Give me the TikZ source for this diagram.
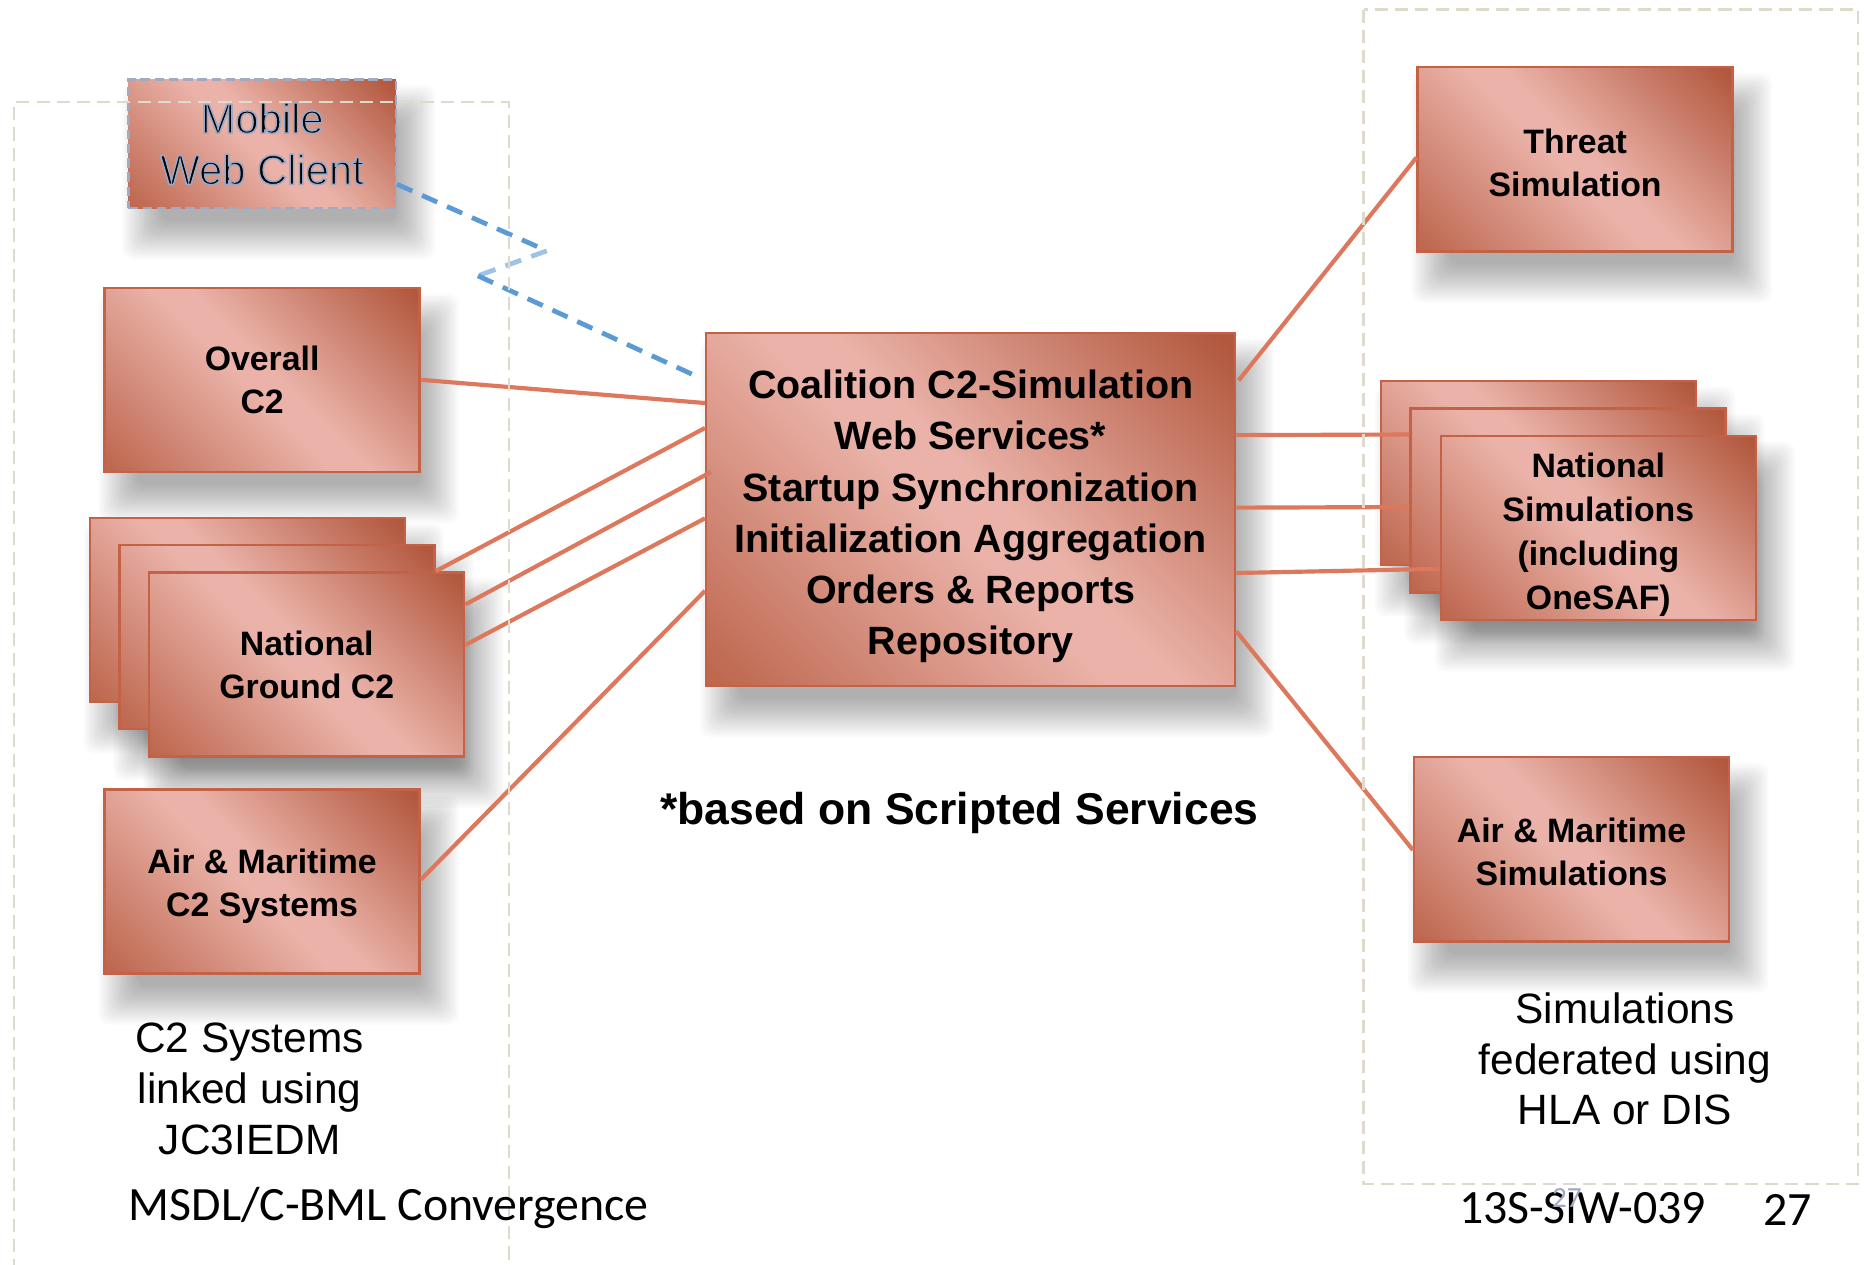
\documentclass[tikz,border=0pt]{standalone}
\usepackage{fontspec}
\setmainfont{Liberation Sans}
\newfontfamily\carlito{Carlito}
\usetikzlibrary{calc}
\definecolor{bxdarkA}{RGB}{190,104,80}
\definecolor{bxdarkB}{RGB}{178,88,62}
\definecolor{bxlight}{RGB}{234,178,168}
\definecolor{bxborder}{RGB}{196,98,72}
\definecolor{linkc}{RGB}{222,120,92}
\definecolor{cont}{RGB}{222,219,204}
\definecolor{blueA}{RGB}{91,155,213}
\definecolor{blueB}{RGB}{157,195,230}
\definecolor{mobborder}{RGB}{160,170,195}
\pgfdeclarehorizontalshading{boxshade}{100bp}{color(0bp)=(bxdarkA); color(16bp)=(bxdarkA); color(47bp)=(bxlight); color(53bp)=(bxlight); color(84bp)=(bxdarkB); color(100bp)=(bxdarkB)}
\pgfdeclarelayer{shadowlayer}
\pgfsetlayers{shadowlayer,main}
\newcommand\boxshadow[1]{%
  \begin{pgfonlayer}{shadowlayer}
    \foreach \e in {-14,-12,...,18}{%
      \pgfmathsetmacro\sa{14-\e}\pgfmathsetmacro\sb{24-\e}%
      \pgfmathsetmacro\sc{14+\e}\pgfmathsetmacro\sd{24+\e}%
      \fill[black, fill opacity=0.02, rounded corners=0.18cm]
        ($(#1.north west)+(\sa,\sb)$) rectangle ($(#1.south east)+(\sc,\sd)$);
    }
  \end{pgfonlayer}}
% outlined text: black fill, blue-grey stroke
\newcommand\outlinetext[1]{\special{pdf:literal direct q 2 Tr 0.75 w 0.60 0.66 0.78 RG 0 g}#1\special{pdf:literal direct Q}}
\begin{document}
\begin{tikzpicture}[x=0.02cm,y=-0.02cm,
  box/.style={draw=bxborder, line width=0.04cm, shading=boxshade, shading angle=45,
    minimum width=5.3cm, minimum height=3.1cm, inner sep=0pt, align=center,
    font=\bfseries\fontsize{16.2}{20.5}\selectfont},
  boxtext/.style={inner sep=0pt, align=center, font=\bfseries\fontsize{16.2}{20.5}\selectfont},
  link/.style={draw=linkc, line width=0.07cm},
  wlink/.style={draw=blueA, line width=0.08cm, dash pattern=on 0.28cm off 0.18cm},
  container/.style={draw=cont, line width=0.04cm, dash pattern=on 0.22cm off 0.12cm},
  label/.style={align=center, font=\fontsize{20.3}{24.2}\selectfont},
  foottext/.style={anchor=west, inner sep=0pt, font=\carlito\fontsize{22.9}{27}\selectfont}]
\useasboundingbox (0,0) rectangle (1568,1064);
\begin{pgfonlayer}{shadowlayer}
\fill[white] (0,0) rectangle (1568,1064);
\end{pgfonlayer}

% boxes
\node[box, minimum width=4.5cm, minimum height=2.16cm, draw=mobborder, dash pattern=on 0.16cm off 0.08cm,
  font=\fontsize{20}{24.5}\selectfont] (mob) at (220.5,121) {\outlinetext{Mobile}\\\outlinetext{Web Client}};
\node[box] (ov) at (220.5,319.5) {Overall\\C2};
\node[box] (ngA) at (208,513) {};
\node[box] (ngB) at (233,536) {};
\node[box] (ngC) at (258,559) {National\\Ground C2};
\node[box] (ac2) at (220.5,741.5) {};
\node[boxtext] (ac2t) at ($(ac2.center)+(0,4)$) {Air \& Maritime\\C2 Systems};
\node[box, minimum width=8.9cm, minimum height=5.94cm] (c) at (816.5,428.5) {};
\node[boxtext, font=\bfseries\fontsize{18.9}{24.5}\selectfont] (ct) at ($(c.center)+(0,6)$)
  {Coalition C2-Simulation\\Web Services*\\Startup Synchronization\\Initialization Aggregation\\Orders \& Reports\\Repository};
\node[box] (th) at (1325,134) {};
\node[boxtext] (tht) at ($(th.center)+(0,3)$) {Threat\\Simulation};
\node[box] (nsA) at (1294,398) {};
\node[box] (nsB) at (1319,421) {};
\node[box] (nsC) at (1344.5,444) {};
\node[boxtext, font=\bfseries\fontsize{16.2}{21}\selectfont] (nsCt) at ($(nsC.center)+(0,6)$) {National\\Simulations\\(including\\OneSAF)};
\node[box] (as) at (1322,714.5) {};
\node[boxtext] (ast) at ($(as.center)+(0,2)$) {Air \& Maritime\\Simulations};

\boxshadow{mob}
\boxshadow{ov}
\boxshadow{ngA}
\boxshadow{ngB}
\boxshadow{ngC}
\boxshadow{ac2}
\boxshadow{c}
\boxshadow{th}
\boxshadow{nsA}
\boxshadow{nsB}
\boxshadow{nsC}
\boxshadow{as}

% connectors
\draw[link] (ov.east) -- ($(c.north west)+(0,60)$);
\draw[link] ($(ngB.north east)+(0,23)$) -- ($(c.north west)+(0,81)$);
\draw[link] ($(ngC.north east)+(0,28)$) -- ($(c.north west)+(5,118)$);
\draw[link] ($(ngC.north east)+(0,62)$) -- ($(c.north west)+(0,157)$);
\draw[link] ($(ac2.north east)+(0,77)$) -- ($(c.north west)+(0,218)$);
\draw[link] ($(c.north east)+(2,41)$) -- ($(th.north west)+(0,77)$);
\draw[link] ($(c.north east)+(0,87)$) -- ($(nsB.north west)+(0,23)$);
\draw[link] ($(c.north east)+(0,148)$) -- ($(nsB.north west)+(0,84)$);
\draw[link] ($(c.north east)+(0,203)$) -- ($(nsC.north west)+(0,113)$);
\draw[link] ($(c.north east)+(0,252)$) -- ($(as.north west)+(0,79)$);

\coordinate (z1) at (460,211);
\coordinate (z2) at (402,232);
\draw[wlink] ($(mob.north east)+(0,89)$) -- (z1);
\draw[wlink, draw=blueB] (z1) -- (z2);
\draw[wlink] (z2) -- ($(c.north west)+(-6,38)$);

% containers
\draw[container] (12,1070) -- (12,86) -- (428,86) -- (428,1070);
\draw[container] (1147,8) rectangle (1563,996);

% labels
\node[label] (lblc2) at (210,916) {C2 Systems\\linked using\\JC3IEDM};
\node[label] (lblsim) at (1367,891) {Simulations\\federated using\\HLA or DIS};
\node[font=\bfseries\fontsize{21.3}{25}\selectfont] (based) at (807,684) {*based on Scripted Services};
\node[foottext] (foot) at (108,1016) {MSDL/C-BML Convergence};
\node[foottext] (code) at (1227,1016) {13S-SIW-039};
\node[foottext] (pg) at (1483,1018) {27};
\node[font=\carlito\fontsize{14}{16}\selectfont, text=mobborder] (pgghost) at (1318,1008) {27};
\end{tikzpicture}
\end{document}
